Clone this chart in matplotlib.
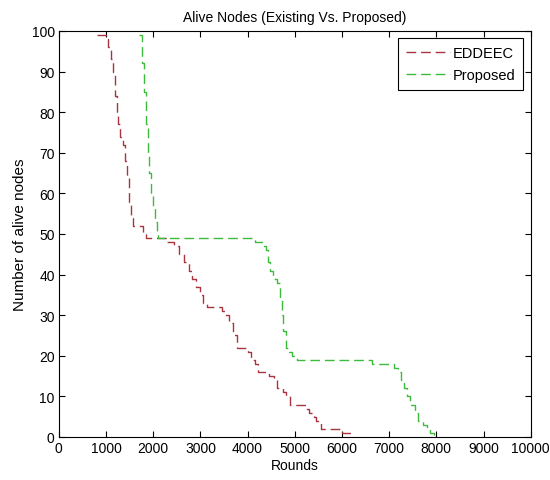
import matplotlib
matplotlib.use("Agg")
import matplotlib.pyplot as plt

plt.rcParams['font.family'] = ['Liberation Sans', 'DejaVu Sans']

eddeec_rounds = [800, 1000, 1040, 1100, 1140, 1180, 1230, 1260, 1300, 1350, 1400, 1450, 1490,
                 1530, 1580, 1780, 1850, 2290, 2450, 2550, 2650, 2750, 2830, 2900, 3000, 3050,
                 3150, 3450, 3530, 3600, 3700, 3780, 4000, 4080, 4150, 4230, 4450, 4550, 4620,
                 4760, 4820, 4900, 5230, 5300, 5400, 5450, 5550, 6000, 6200]
eddeec_alive = [99, 98, 96, 93, 90, 84, 80, 77, 74, 72, 68, 64, 58,
                54, 52, 50, 49, 48, 47, 45, 43, 41, 39, 37, 35, 33,
                32, 31, 30, 28, 25, 22, 21, 19, 18, 16, 15, 14, 12,
                11, 10, 8, 7, 6, 5, 4, 2, 1, 0]

proposed_rounds = [1700, 1760, 1800, 1840, 1880, 1920, 1960, 2000, 2040, 2080, 2110, 4150,
                   4320, 4380, 4440, 4480, 4540, 4620, 4680, 4720, 4760, 4820, 4880, 4950,
                   5040, 6630, 7100, 7180, 7260, 7320, 7380, 7450, 7550, 7620, 7720, 7800,
                   7860, 7950]
proposed_alive = [99, 92, 85, 77, 70, 65, 60, 57, 53, 50, 49, 48,
                  47, 46, 43, 41, 39, 38, 34, 30, 26, 22, 21, 20,
                  19, 18, 17, 16, 14, 12, 10, 8, 6, 4, 3, 2,
                  1, 0]

x_ticks = [0, 1000, 2000, 3000, 4000, 5000, 6000, 7000, 8000, 9000, 10000]
y_ticks = [0, 10, 20, 30, 40, 50, 60, 70, 80, 90, 100]

fig = plt.figure(figsize=(5.5, 4.81), dpi=100)
ax = fig.add_axes([0.107, 0.0894, 0.858, 0.8441])

ax.plot(eddeec_rounds, eddeec_alive, drawstyle='steps-post', color='#a8343f',
        linestyle=(0, (7, 3.5)), linewidth=1.0, label='EDDEEC')
ax.plot(proposed_rounds, proposed_alive, drawstyle='steps-post', color='#3dbb3d',
        linestyle=(0, (7, 3.5)), linewidth=1.0, label='Proposed')

ax.set_xlim(0, 10000)
ax.set_ylim(0, 100)
ax.set_xticks(x_ticks)
ax.set_yticks(y_ticks)
ax.tick_params(direction='in', top=True, right=True, length=4, width=0.8,
               labelsize=10, pad=3)
for s in ax.spines.values():
    s.set_linewidth(0.8)
    s.set_color('black')

ax.set_xlabel('Rounds', fontsize=10, labelpad=2)
ax.set_ylabel('Number of alive nodes', fontsize=11, labelpad=3)
ax.set_title('Alive Nodes (Existing Vs. Proposed)', fontsize=10, pad=7)

leg = ax.legend(loc='upper right', fontsize=10.5, frameon=True, fancybox=False,
                edgecolor='black', framealpha=1, handlelength=3.0, handletextpad=0.2,
                borderpad=0.55, labelspacing=0.55, borderaxespad=0.5)
leg.get_frame().set_linewidth(0.8)

fig.savefig('out.png', dpi=100)
